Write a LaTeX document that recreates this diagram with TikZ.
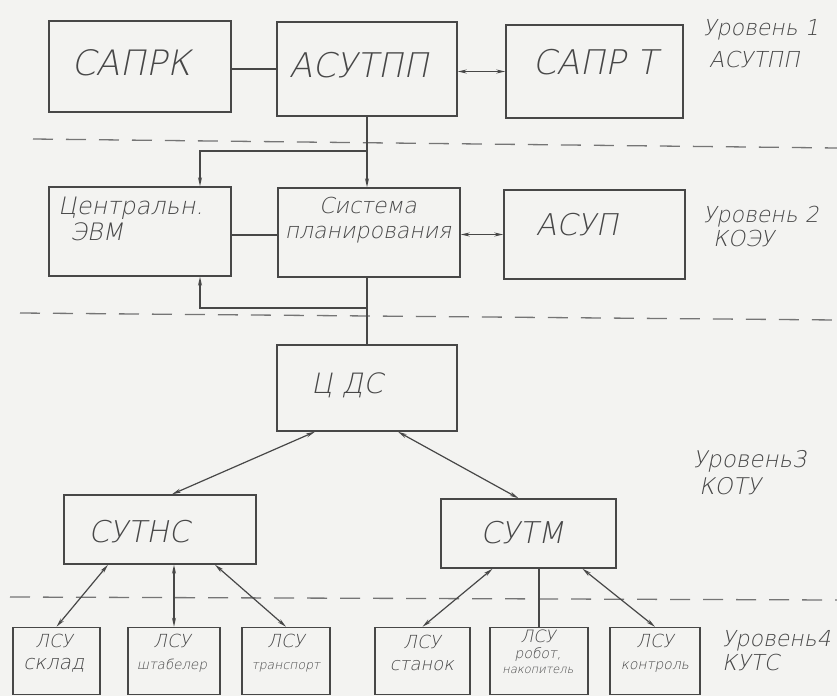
\documentclass[tikz,border=0pt]{standalone}
\usepackage{fontspec}
\usepackage{xcolor}
\usetikzlibrary{arrows.meta}
\newfontfamily\hand{DejaVu Sans ExtraLight}[FakeSlant=0.2]
\definecolor{ink}{HTML}{474747}
\definecolor{paper}{HTML}{F3F3F1}

\begin{document}
\begin{tikzpicture}[x=1pt,y=-1pt,>={Stealth[length=9pt,width=4pt]},
  blk/.style 2 args={draw=ink,line width=1.5pt,minimum width=#1,minimum height=#2,inner sep=0pt},
  txt/.style={text=ink,inner sep=0pt,align=center,font=\hand\fontsize{#1}{#1}\selectfont},
  ln/.style={draw=ink,line width=1.2pt},
  sep/.style={draw=ink!75,line width=1.3pt,dash pattern=on 20pt off 13pt}]
\fill[paper](0,0)rectangle(837,696);
\useasboundingbox(0,0)rectangle(837,696);
% level separators
\draw[sep](33,139)--(837,148);
\draw[sep](20,313)--(837,320);
\draw[sep](10,597)--(837,600);
% level 1
\node[blk={182}{91}](sapk)at(140,66.5){};
\node[blk={180}{94}](asutpp)at(367,69){};
\node[blk={177}{93}](saprt)at(594.5,71.5){};
\node[txt=35](sapk-t)at(131,63){САПРК};
\node[txt=34](asutpp-t)at(359,65){АСУТПП};
\node[txt=34](saprt-t)at(595,62){САПР Т};
\node[txt=22,align=left,anchor=west](lev1)at(703,44){Уровень 1\\[10pt]\hspace*{6pt}АСУТПП};
\draw[ln](asutpp.west)--(asutpp.west-|sapk.east);
\draw[ln,<->](asutpp.east|-saprt.west)--(saprt.west);
% level 2
\node[blk={182}{89}](cevm)at(140,231.5){};
\node[blk={182}{89}](sist)at(369,232.5){};
\node[blk={181}{89}](asup)at(594.5,234.5){};
\node[txt=24,align=left,anchor=west](cevm-t)at(58,219){Центральн.\\[2pt]\hspace*{12pt}ЭВМ};
\node[txt=22](sist-t)at(368,220){Система\\[3pt]планирования};
\node[txt=30](asup-t)at(577,225){АСУП};
\node[txt=22,align=left,anchor=west](lev2)at(703,226){Уровень 2\\[2pt]\hspace*{10pt}КОЭУ};
\draw[ln,->](asutpp.south)--(asutpp.south|-sist.north);
\coordinate(fork)at(asutpp.south|-0,151);
\draw[ln,->](fork)-|([xshift=60pt]cevm.north);
\draw[ln](cevm.east|-0,235)--(sist.west|-0,235);
\draw[ln,<->](sist.east|-asup.west)--(asup.west);
\coordinate(join)at(asutpp.south|-0,308);
\draw[ln,->](join)-|([xshift=60pt]cevm.south);
% level 3
\node[blk={180}{86}](cds)at(367,388){};
\node[blk={192}{69}](sutns)at(160,529.5){};
\node[blk={175}{69}](sutm)at(528.5,533.5){};
\node[txt=28](cds-t)at(347,385){Ц ДС};
\node[txt=30](sutns-t)at(139,532){СУТНС};
\node[txt=30](sutm-t)at(522,533){СУТМ};
\node[txt=23,align=left,anchor=west](lev3)at(693,473){Уровень3\\[4pt]\hspace*{6pt}КОТУ};
\draw[ln](asutpp.south|-sist.south)--(asutpp.south|-cds.north);
\draw[ln,<->]([xshift=-52pt]cds.south)--([xshift=12pt]sutns.north);
\draw[ln,<->]([xshift=31pt]cds.south)--([xshift=-10pt]sutm.north);
% level 4
\node[blk={87}{67}](sklad)at(56.5,661){};
\node[blk={92}{67}](shtab)at(174,661){};
\node[blk={88}{67}](trans)at(286,661){};
\node[blk={95}{67}](stan)at(422.5,661){};
\node[blk={98}{67}](robot)at(539,661){};
\node[blk={90}{67}](kontr)at(655,661){};
\node[txt=18](sklad-t)at(54,653){ЛСУ\\[4pt]{\fontsize{20}{20}\selectfont склад}};
\node[txt=18](shtab-t)at(172,653){ЛСУ\\[4pt]{\fontsize{13.5}{13.5}\selectfont штабелер}};
\node[txt=18](trans-t)at(286,653){ЛСУ\\[4pt]{\fontsize{12.5}{12.5}\selectfont транспорт}};
\node[txt=18](stan-t)at(422,653){ЛСУ\\[4pt]{\fontsize{18}{18}\selectfont станок}};
\node[txt=17](robot-t)at(538,652){ЛСУ\\[-1pt]{\fontsize{14}{14}\selectfont робот,}\\[-2pt]{\fontsize{11.5}{11.5}\selectfont накопитель}};
\node[txt=18](kontr-t)at(655,653){ЛСУ\\[4pt]{\fontsize{14}{14}\selectfont контроль}};
\node[txt=22,align=left,anchor=west](lev4)at(722,651){Уровень4\\[2pt]КУТС};
\draw[ln,<->]([xshift=-52pt]sutns.south)--(sklad.north);
\draw[ln,<->](shtab.north|-sutns.south)--(shtab.north);
\draw[ln,<->]([xshift=55pt]sutns.south)--(trans.north);
\draw[ln,<->]([xshift=-36pt]sutm.south)--(stan.north);
\draw[ln](robot.north|-sutm.south)--(robot.north);
\draw[ln,<->]([xshift=54pt]sutm.south)--(kontr.north);
\end{tikzpicture}
\end{document}
